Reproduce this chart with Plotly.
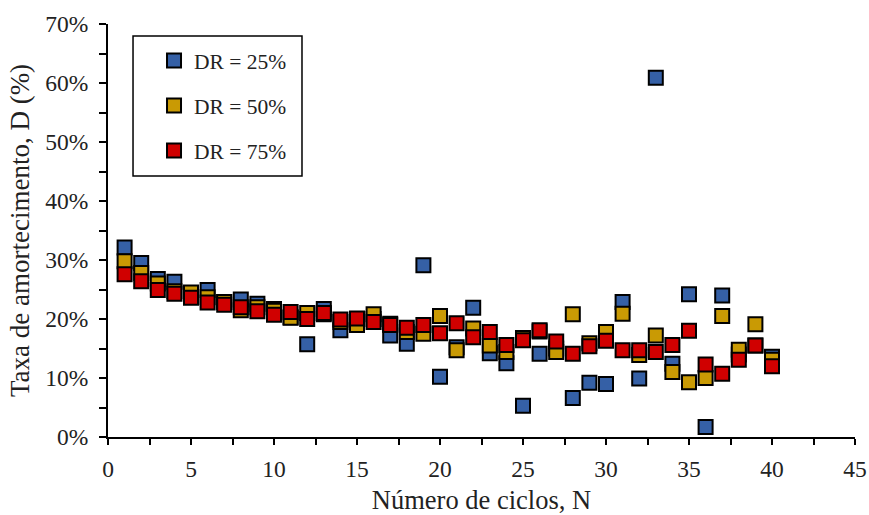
import plotly.graph_objects as go

ciclos = list(range(1, 41))

dr25 = [32.1, 29.5, 26.8, 26.3, 24.0, 24.9, 22.9, 23.3, 22.6, 21.7,
        20.3, 15.7, 21.7, 18.1, 19.5, 20.0, 17.2, 15.8, 29.1, 10.2,
        15.2, 21.9, 14.2, 12.5, 5.3, 14.1, 15.0, 6.6, 9.2, 9.0,
        22.9, 9.9, 60.9, 12.4, 24.2, 1.7, 24.0, 14.0, 15.5, 13.6]
dr50 = [29.8, 27.8, 26.0, 24.7, 24.5, 23.7, 22.9, 21.5, 22.0, 21.4,
        20.2, 21.0, 20.8, 19.5, 19.0, 20.8, 19.2, 17.8, 17.5, 20.5,
        14.7, 18.4, 15.5, 14.4, 16.8, 17.9, 14.4, 20.8, 15.9, 17.8,
        20.9, 13.9, 17.2, 11.0, 9.3, 10.0, 20.5, 14.8, 19.1, 13.1]
dr75 = [27.6, 26.4, 24.9, 24.3, 23.6, 22.8, 22.4, 22.0, 21.3, 20.7,
        21.2, 20.0, 21.0, 19.9, 20.1, 19.5, 19.0, 18.5, 19.0, 17.6,
        19.3, 16.9, 17.8, 15.6, 16.4, 18.1, 16.2, 14.1, 15.4, 16.3,
        14.7, 14.7, 14.4, 15.6, 18.0, 12.3, 10.7, 13.1, 15.5, 12.0]

series = [("DR = 25%", dr25, "#3560A6"),
          ("DR = 50%", dr50, "#C99A04"),
          ("DR = 75%", dr75, "#D00000")]

fig = go.Figure()
for i, (name, vals, color) in enumerate(series):
    fig.add_trace(go.Scatter(
        x=ciclos, y=[v / 100 for v in vals], mode="markers", name=name,
        legendgroup=str(i),
        marker=dict(symbol="square", size=14, color=color,
                    line=dict(color="black", width=2)),
    ))

font = "Liberation Serif, Times New Roman, serif"
fig.update_layout(
    width=869, height=515,
    margin=dict(l=108, r=14, t=24, b=78),
    plot_bgcolor="white", paper_bgcolor="white",
    font=dict(family=font, size=22, color="#222"),
    showlegend=True,
    legend=dict(x=0.0616, y=0.961, xanchor="left", yanchor="top",
                borderwidth=0, bgcolor="rgba(0,0,0,0)",
                traceorder="grouped", tracegroupgap=14,
                font=dict(family=font, size=21.5, color="#222"),
                itemwidth=30),
    # legend frame
    shapes=[dict(type="rect", xref="paper", yref="paper",
                 x0=0.0335, x1=0.2597, y0=0.632, y1=0.9709,
                 line=dict(color="black", width=1.5), layer="below")],
)
fig.update_xaxes(range=[0, 45], dtick=5, showline=True, linecolor="black",
                 linewidth=2, ticks="outside", ticklen=6, tickwidth=2,
                 tickcolor="black", showgrid=False, zeroline=False,
                 automargin=False, ticklabelstandoff=4,
                 minor=dict(dtick=2.5, ticks="outside", ticklen=6,
                            tickwidth=2, tickcolor="black"),
                 tickfont=dict(size=23.5),
                 title=dict(text="Número de ciclos, N", font=dict(size=26.5),
                            standoff=9))
fig.update_yaxes(range=[0, 0.7], dtick=0.1, tickformat=".0%", showline=True,
                 linecolor="black", linewidth=2, ticks="outside", ticklen=7,
                 tickwidth=2, tickcolor="black", showgrid=False,
                 zeroline=False, automargin=False, ticklabelstandoff=6,
                 minor=dict(dtick=0.05, ticks="outside", ticklen=7,
                            tickwidth=2, tickcolor="black"),
                 tickfont=dict(size=23.5),
                 title=dict(text="Taxa de amortecimento, D (%)",
                            font=dict(size=27), standoff=8))

fig.write_html("out.html", config={"displayModeBar": False},
               post_script="document.body.style.margin='0';")
